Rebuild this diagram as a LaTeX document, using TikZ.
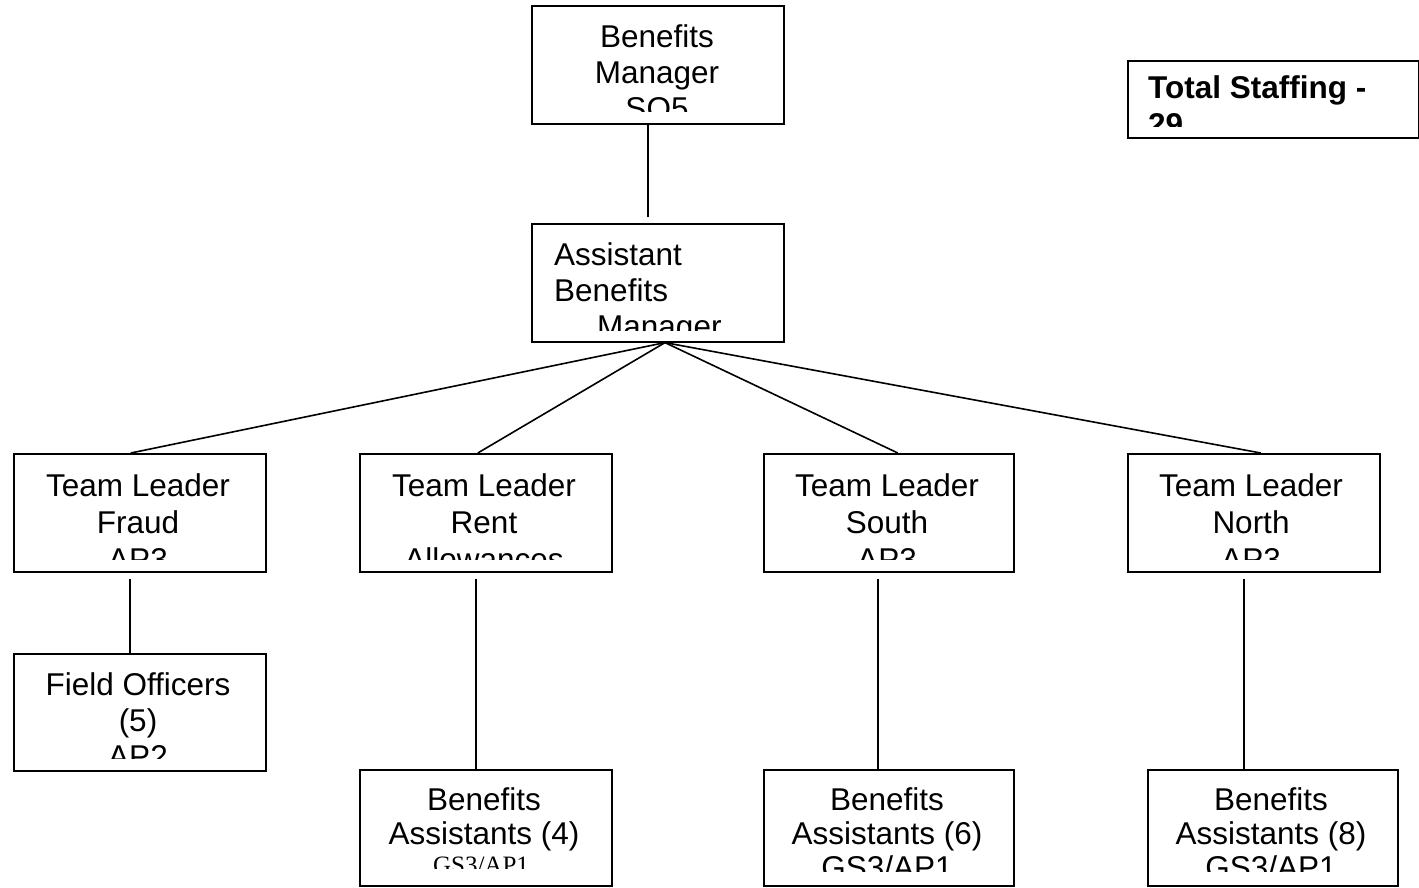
\documentclass[tikz,border=0pt]{standalone}
\usepackage{fontspec}
\setmainfont{Liberation Sans}
\newfontfamily\serifface{Liberation Serif}
\begin{document}
\begin{tikzpicture}[x=1pt,y=-1pt,
  boxnode/.style={draw,line width=1.6pt,inner sep=0pt,anchor=north west},
  lbl/.style={inner sep=0pt,anchor=base,font=\fontsize{31.5}{36}\selectfont},
  lbll/.style={inner sep=0pt,anchor=base west,font=\fontsize{31.5}{36}\selectfont},
  link/.style={line width=1.6pt}]
\useasboundingbox (0,0) rectangle (1419,887);
% ---------- boxes ----------
\node[boxnode,minimum width=252pt,minimum height=118pt] (bm) at (531,5) {};
\node[boxnode,minimum width=291pt,minimum height=77pt] (tot) at (1127,60) {};
\node[boxnode,minimum width=252pt,minimum height=118pt] (abm) at (531,223) {};
\node[boxnode,minimum width=252pt,minimum height=118pt] (tlf) at (13,453) {};
\node[boxnode,minimum width=252pt,minimum height=118pt] (tlr) at (359,453) {};
\node[boxnode,minimum width=250pt,minimum height=118pt] (tls) at (763,453) {};
\node[boxnode,minimum width=252pt,minimum height=118pt] (tln) at (1127,453) {};
\node[boxnode,minimum width=252pt,minimum height=117pt] (fo) at (13,653) {};
\node[boxnode,minimum width=252pt,minimum height=116pt] (bar) at (359,769) {};
\node[boxnode,minimum width=250pt,minimum height=116pt] (bas) at (763,769) {};
\node[boxnode,minimum width=250pt,minimum height=116pt] (ban) at (1147,769) {};
% ---------- texts (clipped as in the original) ----------
\begin{scope}\clip (531,5) rectangle (783,111);
\node[lbl] at (657,47) {Benefits};
\node[lbl] at (657,83) {Manager};
\node[lbl] at (657,119.5) {SO5};
\end{scope}
\begin{scope}\clip (1127,60) rectangle (1419,126);
\node[lbll,font=\fontsize{31.5}{36}\selectfont\bfseries,inner sep=0pt] at (1148,98.3) {Total Sta{}f{}fing -};
\node[lbll,font=\fontsize{31.5}{36}\selectfont\bfseries] at (1148,135) {29};
\end{scope}
\begin{scope}\clip (531,223) rectangle (783,330);
\node[lbll] at (554,265) {Assistant};
\node[lbll] at (554,301) {Benefits};
\node[lbll] at (597,337.5) {Manager};
\end{scope}
\begin{scope}\clip (13,453) rectangle (265,559);
\node[lbl] at (138,496) {Team Leader};
\node[lbl] at (138,533.5) {Fraud};
\node[lbl] at (138,570) {AP3};
\end{scope}
\begin{scope}\clip (359,453) rectangle (611,559);
\node[lbl] at (484,496) {Team Leader};
\node[lbl] at (484,533.5) {Rent};
\node[lbl] at (484,570) {Allowances};
\end{scope}
\begin{scope}\clip (763,453) rectangle (1013,559);
\node[lbl] at (887,496) {Team Leader};
\node[lbl] at (887,533.5) {South};
\node[lbl] at (887,570) {AP3};
\end{scope}
\begin{scope}\clip (1127,453) rectangle (1379,559);
\node[lbl] at (1251,496) {Team Leader};
\node[lbl] at (1251,533.5) {North};
\node[lbl] at (1251,570) {AP3};
\end{scope}
\begin{scope}\clip (13,653) rectangle (265,758);
\node[lbl] at (138,695.5) {Field Officers};
\node[lbl] at (138,731.5) {(5)};
\node[lbl] at (138,767) {AP2};
\end{scope}
\begin{scope}\clip (359,769) rectangle (611,868);
\node[lbl] at (484,810) {Benefits};
\node[lbl] at (484,844) {Assistants (4)};
\node[lbl,font=\fontsize{25}{30}\serifface] at (481,873) {GS3/AP1};
\end{scope}
\begin{scope}\clip (763,769) rectangle (1013,871);
\node[lbl] at (887,810) {Benefits};
\node[lbl] at (887,844) {Assistants (6)};
\node[lbl] at (887,878) {GS3/AP1};
\end{scope}
\begin{scope}\clip (1147,769) rectangle (1397,871);
\node[lbl] at (1271,810) {Benefits};
\node[lbl] at (1271,844) {Assistants (8)};
\node[lbl] at (1271,878) {GS3/AP1};
\end{scope}
% ---------- connectors ----------
\coordinate (hub) at (abm.south -| 665,0);
\draw[link] ([xshift=-10pt]bm.south) -- ([xshift=-10pt,yshift=6pt]abm.north);
\draw[link] (hub) -- ([xshift=-9pt]tlf.north);
\draw[link] (hub) -- ([xshift=-8pt]tlr.north);
\draw[link] (hub) -- ([xshift=9pt]tls.north);
\draw[link] (hub) -- ([xshift=7pt]tln.north);
\draw[link] ([xshift=-10pt,yshift=-6pt]tlf.south) -- ([xshift=-10pt]fo.north);
\draw[link] ([xshift=-10pt,yshift=-6pt]tlr.south) -- ([xshift=-10pt]bar.north);
\draw[link] ([xshift=-11pt,yshift=-6pt]tls.south) -- ([xshift=-11pt]bas.north);
\draw[link] ([xshift=-10pt,yshift=-6pt]tln.south) -- ([xshift=-29pt]ban.north);
\end{tikzpicture}
\end{document}
